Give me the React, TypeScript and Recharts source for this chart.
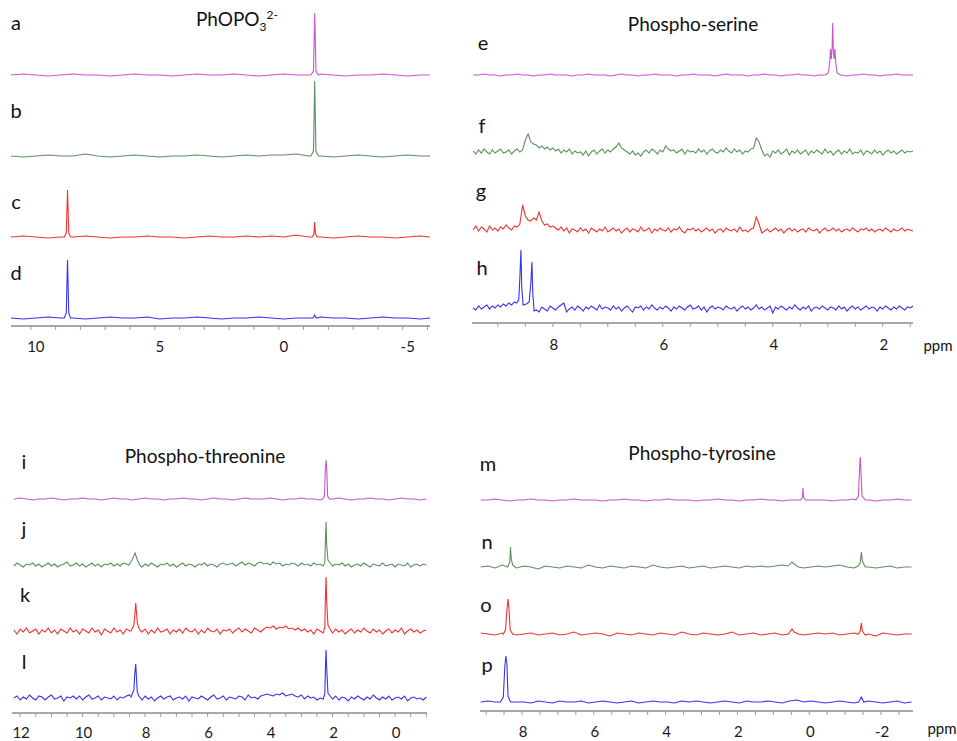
import React from "react";
import { LineChart, Line, XAxis, YAxis } from "recharts";

type Pt = [number, number];

// ---- PhOPO3(2-) panel: a-d ----
const ppm1 = [
  10.8, 10.3, 9.8, 9.3, 8.8, 8.3, 7.8, 7.3, 6.8, 6.3, 5.8, 5.3, 4.8, 4.3, 3.8, 3.3, 2.8, 2.3,
  1.8, 1.3, 0.8, 0.3, -0.2, -0.7, -1.2, -1.7, -2.2, -2.7, -3.2, -3.7, -4.2, -4.7, -5.2, -5.7, -6.1,
];
const aBase = [0, 1, 0, -1, 0, 1, 0, 0, -1, 0, 1, 0, 0, -1, 0, 1, 0, 0, 1, 0, -1, 0, 1, 0, 0, 1, 0, -1, 0, 0, 1, 0, -1, 0, 0];
const bBase = [0, -1, 0, 1, 0, 0, 2, 0, -1, 0, 1, 0, -1, 0, 0, 1, 0, -1, 0, 1, 0, 1, 1, 2, 0, 0, -1, 0, 1, 0, -1, 0, 1, 0, 0];
const cBase = [0, 1, 0, -1, 0, 0, 1, 0, -1, 0, 0, 1, 0, 0, -1, 0, 1, 0, 0, 1, 0, 1, 0, 2, 0, 0, -1, 0, 1, 0, 0, -1, 0, 1, 0];
const dBase = [0, -1, 0, 1, 0, 0, -1, 0, 1, 0, 0, 1, -1, 0, 0, 1, 0, -1, 0, 0, 1, 0, -1, 0, 0, 1, 0, 0, -1, 0, 1, 0, 0, -1, 0];
const aPeaks: Pt[][] = [[[-1.3, 0], [-1.4, 4], [-1.43, 40], [-1.45, 62], [-1.47, 40], [-1.5, 4], [-1.6, 0]]];
const bPeaks: Pt[][] = [[[-1.3, 0], [-1.4, 5], [-1.43, 45], [-1.45, 75], [-1.47, 45], [-1.5, 5], [-1.6, 0]]];
const cPeaks: Pt[][] = [
  [[8.65, 0], [8.57, 4], [8.54, 30], [8.52, 47], [8.5, 30], [8.47, 4], [8.4, 0]],
  [[-1.35, 0], [-1.42, 3], [-1.45, 15], [-1.48, 3], [-1.55, 0]],
];
const dPeaks: Pt[][] = [
  [[8.65, 0], [8.57, 5], [8.54, 38], [8.52, 58], [8.5, 38], [8.47, 5], [8.4, 0]],
  [[-1.38, 0], [-1.45, 3], [-1.52, 0]],
];
const ticks1 = [10, 9, 8, 7, 6, 5, 4, 3, 2, 1, 0, -1, -2, -3, -4, -5, -6];
const labels1 = [10, 5, 0, -5];

// ---- Phospho-serine panel: e-h ----
const ppm2 = [
  9.45, 9.35, 9.25, 9.15, 9.05, 8.95, 8.85, 8.75, 8.65, 8.55, 8.45, 8.35, 8.25, 8.15, 8.05, 7.95, 7.85, 7.75, 7.65, 7.55,
  7.45, 7.35, 7.25, 7.15, 7.05, 6.95, 6.85, 6.75, 6.65, 6.55, 6.45, 6.35, 6.25, 6.15, 6.05, 5.95, 5.85, 5.75, 5.65, 5.55,
  5.45, 5.35, 5.25, 5.15, 5.05, 4.95, 4.85, 4.75, 4.65, 4.55, 4.45, 4.35, 4.25, 4.15, 4.05, 3.95, 3.85, 3.75, 3.65, 3.55,
  3.45, 3.35, 3.25, 3.15, 3.05, 2.95, 2.85, 2.75, 2.65, 2.55, 2.45, 2.35, 2.25, 2.15, 2.05, 1.95, 1.85, 1.75, 1.65, 1.55,
  1.45,
];
const ppm2fine = [
  9.45, 9.4, 9.35, 9.3, 9.25, 9.2, 9.15, 9.1, 9.05, 9.0,
  8.95, 8.9, 8.85, 8.8, 8.75, 8.7, 8.65, 8.6, 8.55, 8.5,
  8.45, 8.4, 8.35, 8.3, 8.25, 8.2, 8.15, 8.1, 8.05, 8.0,
  7.95, 7.9, 7.85, 7.8, 7.75, 7.7, 7.65, 7.6, 7.55, 7.5,
  7.45, 7.4, 7.35, 7.3, 7.25, 7.2, 7.15, 7.1, 7.05, 7.0,
  6.95, 6.9, 6.85, 6.8, 6.75, 6.7, 6.65, 6.6, 6.55, 6.5,
  6.45, 6.4, 6.35, 6.3, 6.25, 6.2, 6.15, 6.1, 6.05, 6.0,
  5.95, 5.9, 5.85, 5.8, 5.75, 5.7, 5.65, 5.6, 5.55, 5.5,
  5.45, 5.4, 5.35, 5.3, 5.25, 5.2, 5.15, 5.1, 5.05, 5.0,
  4.95, 4.9, 4.85, 4.8, 4.75, 4.7, 4.65, 4.6, 4.55, 4.5,
  4.45, 4.4, 4.35, 4.3, 4.25, 4.2, 4.15, 4.1, 4.05, 4.0,
  3.95, 3.9, 3.85, 3.8, 3.75, 3.7, 3.65, 3.6, 3.55, 3.5,
  3.45, 3.4, 3.35, 3.3, 3.25, 3.2, 3.15, 3.1, 3.05, 3.0,
  2.95, 2.9, 2.85, 2.8, 2.75, 2.7, 2.65, 2.6, 2.55, 2.5,
  2.45, 2.4, 2.35, 2.3, 2.25, 2.2, 2.15, 2.1, 2.05, 2.0,
  1.95, 1.9, 1.85, 1.8, 1.75, 1.7, 1.65, 1.6, 1.55, 1.5,
  1.45,
];
const eBase = [
  0, 0, 1, 0, 0, -1, 0, 0, 1, 0, 0, -1, 0, 0, 1, 0, 0, 0, -1, 0, 0, 1, 0, 0, 0, -1, 0, 1, 0, 0,
  -1, 0, 0, 1, 0, 0, 0, -1, 0, 0, 1, 0, 0, 0, -1, 0, 1, 0, 0, 0, -1, 0, 0, 1, 0, 0, -1, 0, 0, 1,
  0, 0, -1, 0, 1, 0, 0, 0, -1, 0, 0, 1, 0, 0, -1, 0, 0, 1, 0, 0, 0,
];
const fBase = [
  1, -2, 2, -1, 3, 0, -2, 2, -1, 1,
  3, -1, 0, 2, -2, 1, 3, 0, 2, 12,
  18, 10, 8, 7, 4, 6, 3, 5, 2, 4,
  1, 3, -1, 2, 0, 3, -2, 1, -1, 0,
  -3, 1, -4, 0, 2, -2, 1, 3, -1, 2,
  0, 3, 5, 9, 4, 2, 0, -2, 1, -3,
  -1, -4, 0, 2, -1, 3, 1, -2, 2, 0,
  6, 3, 1, 2, -1, 1, 3, -2, 2, 0,
  1, -1, 3, 0, 2, -2, 1, 3, 0, -1,
  2, 0, 4, 1, -1, 3, 0, 2, -2, 1,
  0, 3, 4, 14, 10, 2, -4, -2, -5, 1,
  -1, 2, -2, 0, 3, -3, 1, -1, 2, -2,
  0, 2, -3, 1, -1, 2, 0, -2, 3, -1,
  1, -3, 0, 2, -2, 1, -1, 3, -2, 0,
  -1, 2, -3, 1, 0, -2, 2, -1, 1, -3,
  0, 2, -1, 1, -2, 0, 2, -1, 1, 0,
  1,
];
const gBase = [
  0, 4, -1, 3, 1, -2, 4, 0, 2, -1,
  3, 1, 5, 2, 0, 4, 3, 6, 25, 14,
  10, 9, 12, 10, 18, 9, 5, 6, 3, 4,
  2, 0, 3, -1, 2, -3, 1, 0, -2, 2,
  -1, 1, -3, 2, 0, -2, 1, -1, 3, -2,
  0, 2, -1, 1, -3, 0, 2, -2, 1, 0,
  -2, 3, -1, 0, 2, -3, 1, -1, 2, 0,
  -1, 2, -2, 1, 0, 3, -1, -3, 1, 0,
  2, -1, 1, -2, 0, 2, -1, 1, -3, 0,
  1, -2, 2, 0, -1, 1, -2, 3, -1, 0,
  -2, 1, 2, 13, 6, -3, -1, 1, -2, 0,
  2, -1, 1, -3, 0, 2, -1, 1, -2, 0,
  1, -2, 2, 0, -1, 1, -3, 0, 2, -1,
  0, 2, -1, 1, -2, 0, 1, -1, 2, 0,
  -2, 1, 0, 2, -1, 1, -2, 0, 1, -1,
  2, 0, -2, 1, -1, 0, 2, -1, 1, 0,
  -1,
];
const hBase = [
  0, -2, 2, -1, 1, 3, -1, 2, 0, 3,
  1, 4, 2, 5, 3, 6, 0, 0, 0, 0,
  0, 0, 0, -2, -4, 1, -1, -3, 2, 0,
  -2, 1, 3, 5, -4, -1, 1, -2, 2, 0,
  -3, 1, -1, 2, 0, -2, 3, -1, 1, 0,
  -2, 2, -1, 1, -3, 0, 2, -1, -4, 1,
  0, 2, -2, 1, -1, 3, 0, -2, 1, -1,
  2, 0, -3, 1, -1, 2, 0, -2, 1, 3,
  -1, 0, 2, -2, 1, -4, 0, 2, -1, 1,
  0, -2, 2, 0, -1, 1, -3, 0, 2, -1,
  1, -2, 0, 3, -1, 1, -2, 0, 2, -5,
  1, -1, 2, 0, -2, 1, -1, 3, 0, -2,
  1, -1, 2, -3, 0, 1, -1, 2, 0, -2,
  1, 0, -2, 2, -1, 1, -3, 0, 2, -1,
  1, -2, 0, 2, -1, 1, 0, -3, 1, -1,
  2, 0, -2, 1, -1, 2, 0, -2, 1, 0,
  2,
];
const ePeaks: Pt[][] = [
  [[3.05, 0], [2.99, 2], [2.965, 12], [2.95, 26], [2.935, 16], [2.92, 28], [2.91, 52], [2.9, 28], [2.885, 16], [2.87, 26], [2.855, 12], [2.83, 2], [2.77, 0]],
];
const hPeaks: Pt[][] = [
  [[8.66, 5], [8.62, 8], [8.6, 30], [8.58, 58], [8.565, 20], [8.54, 3], [8.48, 4], [8.43, 6], [8.4, 25], [8.38, 46], [8.365, 15], [8.34, -3]],
];
const ticks2 = [9, 8.5, 8, 7.5, 7, 6.5, 6, 5.5, 5, 4.5, 4, 3.5, 3, 2.5, 2, 1.5];
const labels2 = [8, 6, 4, 2];

// ---- Phospho-threonine panel: i-l ----
const ppm3 = [
  12.2, 12, 11.8, 11.6, 11.4, 11.2, 11, 10.8, 10.6, 10.4, 10.2, 10, 9.8, 9.6, 9.4, 9.2, 9, 8.8, 8.6, 8.4,
  8.2, 8, 7.8, 7.6, 7.4, 7.2, 7, 6.8, 6.6, 6.4, 6.2, 6, 5.8, 5.6, 5.4, 5.2, 5, 4.8, 4.6, 4.4,
  4.2, 4, 3.8, 3.6, 3.4, 3.2, 3, 2.8, 2.6, 2.4, 2.2, 2, 1.8, 1.6, 1.4, 1.2, 1, 0.8, 0.6, 0.4,
  0.2, 0, -0.2, -0.4, -0.6, -0.8, -1,
];
const ppm3fine = [
  12.2, 12.1, 12.0, 11.9, 11.8, 11.7, 11.6, 11.5, 11.4, 11.3,
  11.2, 11.1, 11.0, 10.9, 10.8, 10.7, 10.6, 10.5, 10.4, 10.3,
  10.2, 10.1, 10.0, 9.9, 9.8, 9.7, 9.6, 9.5, 9.4, 9.3,
  9.2, 9.1, 9.0, 8.9, 8.8, 8.7, 8.6, 8.5, 8.4, 8.3,
  8.2, 8.1, 8.0, 7.9, 7.8, 7.7, 7.6, 7.5, 7.4, 7.3,
  7.2, 7.1, 7.0, 6.9, 6.8, 6.7, 6.6, 6.5, 6.4, 6.3,
  6.2, 6.1, 6.0, 5.9, 5.8, 5.7, 5.6, 5.5, 5.4, 5.3,
  5.2, 5.1, 5.0, 4.9, 4.8, 4.7, 4.6, 4.5, 4.4, 4.3,
  4.2, 4.1, 4.0, 3.9, 3.8, 3.7, 3.6, 3.5, 3.4, 3.3,
  3.2, 3.1, 3.0, 2.9, 2.8, 2.7, 2.6, 2.5, 2.4, 2.3,
  2.2, 2.1, 2.0, 1.9, 1.8, 1.7, 1.6, 1.5, 1.4, 1.3,
  1.2, 1.1, 1.0, 0.9, 0.8, 0.7, 0.6, 0.5, 0.4, 0.3,
  0.2, 0.1, 0.0, -0.1, -0.2, -0.3, -0.4, -0.5, -0.6, -0.7,
  -0.8, -0.9, -1.0,
];
const iBase = [
  0, 1, 0, -1, 0, 0, 1, 0, -1, 0, 0, 1, 0, 0, -1, 0, 1, 0, 0, -1, 0, 1, 0, 0, -1, 0, 0, 1, 0, 0,
  -1, 0, 1, 0, 0, -1, 0, 1, 0, 0, 0, 1, 0, -1, 0, 0, 1, 0, 0, -1, 0, 0, 1, 0, -1, 0, 0, 1, 0, 0,
  -1, 0, 1, 0, 0, -1, 0,
];
const jBase = [
  -1, 2, 0, -2, 1, 0, 2, -1, 1, -2,
  0, 2, -1, 1, -2, 0, 1, 3, -1, 0,
  2, -1, 1, -2, 0, 2, -1, 1, -2, 1,
  0, 2, -1, 1, -1, 2, 1, 0, 0, 0,
  0, -2, 1, -1, 2, 0, -2, 1, 0, 2,
  -1, 1, -2, 0, 2, -1, 1, 0, -2, 1,
  0, 2, -1, 1, 0, -2, 1, 2, 0, 1,
  2, -1, 1, 3, 0, 2, 1, -1, 2, 3,
  1, 2, 0, 3, 1, 2, -1, 1, 0, 2,
  1, -1, 2, 0, 1, -1, 2, 0, 1, 0,
  0, 0, -1, 1, 0, 2, -1, 1, -2, 0,
  1, -1, 2, 0, -2, 1, 0, -1, 2, -1,
  0, 1, -2, 1, 0, -1, 2, -2, 0, 1,
  -1, 1, 0,
];
const kBase = [
  1, -3, 2, -1, 3, -2, 0, 2, -3, 1,
  -1, 3, -2, 1, -3, 2, 0, -2, 3, -1,
  1, -3, 2, 0, -2, 3, -1, 1, -4, 2,
  0, -2, 3, -1, 1, -3, 2, 0, 0, 0,
  0, -1, 2, -3, 1, -2, 3, -1, 0, 2,
  -3, 1, -1, 2, -2, 3, 0, -1, 2, -3,
  1, -2, 3, 0, -1, 2, -3, 1, 0, 2,
  -2, 1, 3, -1, 2, 0, -2, 3, 1, -1,
  2, 4, 3, 5, 2, 4, 3, 5, 2, 3,
  1, 3, 0, 2, -1, 1, -3, 2, 0, 0,
  0, 0, -2, 2, -1, 1, -3, 0, 2, -2,
  1, -1, 3, 0, -2, 2, -1, 1, -3, 0,
  2, -2, 1, -1, 3, -3, 0, 2, -1, 1,
  -2, 0, 1,
];
const lBase = [
  0, 2, -2, 1, -1, 3, 0, -2, 2, 1,
  -2, 1, 3, -1, 0, 2, -3, 1, 0, 2,
  -1, 2, -2, 1, 3, -1, 0, 2, -2, 1,
  0, -1, 2, -2, 1, 0, 2, 3, 0, 0,
  0, -2, 2, -1, 1, -3, 0, 2, -1, 1,
  2, -2, 0, 1, -1, 2, -3, 1, 0, -1,
  2, 0, -2, 1, 3, -1, 0, 2, -2, 1,
  0, -1, 2, 1, -2, 3, 0, 1, -1, 2,
  3, 4, 3, 2, 4, 3, 5, 2, 3, 4,
  2, 1, 3, -1, 2, 0, 1, -2, 0, 0,
  0, 0, -1, 2, -2, 1, 0, -3, 1, -1,
  2, 0, -2, 1, -1, 3, 0, -2, 1, -1,
  2, -2, 0, 1, -1, 2, -3, 0, 1, -1,
  0, -2, 1,
];
const iPeaks: Pt[][] = [[[2.32, 0], [2.26, 3], [2.235, 28], [2.21, 39], [2.185, 28], [2.16, 3], [2.1, 0]]];
const jPeaks: Pt[][] = [
  [[8.52, 0], [8.42, 5], [8.32, 12], [8.25, 5], [8.15, -1]],
  [[2.3, -1], [2.25, 3], [2.23, 25], [2.21, 43], [2.19, 20], [2.15, 5], [2.08, 2]],
];
const kPeaks: Pt[][] = [
  [[8.45, 0], [8.36, 6], [8.33, 16], [8.3, 28], [8.28, 20], [8.25, 8], [8.2, 3], [8.12, -1]],
  [[2.3, -2], [2.25, 4], [2.23, 35], [2.21, 54], [2.19, 30], [2.15, 6], [2.08, 2]],
];
const lPeaks: Pt[][] = [
  [[8.45, 1], [8.36, 8], [8.33, 25], [8.3, 34], [8.28, 22], [8.25, 6], [8.2, 2], [8.12, -1]],
  [[2.3, -1], [2.25, 4], [2.23, 30], [2.21, 48], [2.19, 30], [2.15, 5], [2.08, 2]],
];
const ticks3 = [12, 11.5, 11, 10.5, 10, 9.5, 9, 8.5, 8, 7.5, 7, 6.5, 6, 5.5, 5, 4.5, 4, 3.5, 3, 2.5, 2, 1.5, 1, 0.5, 0, -0.5, -1];
const labels3 = [12, 10, 8, 6, 4, 2, 0];

// ---- Phospho-tyrosine panel: m-p ----
const ppm4 = [
  9.15, 8.95, 8.75, 8.55, 8.35, 8.15, 7.95, 7.75, 7.55, 7.35, 7.15, 6.95, 6.75, 6.55, 6.35, 6.15, 5.95, 5.75, 5.55, 5.35,
  5.15, 4.95, 4.75, 4.55, 4.35, 4.15, 3.95, 3.75, 3.55, 3.35, 3.15, 2.95, 2.75, 2.55, 2.35, 2.15, 1.95, 1.75, 1.55, 1.35,
  1.15, 0.95, 0.75, 0.55, 0.35, 0.15, -0.05, -0.25, -0.45, -0.65, -0.85, -1.05, -1.25, -1.45, -1.65, -1.85, -2.05, -2.25, -2.45, -2.65,
  -2.85,
];
const mBase = [
  0, 0, 1, 0, -1, 0, 0, 1, 0, 0, -1, 0, 0, 1, 0, 0, 0, -1, 0, 0, 1, 0, 0, -1, 0, 0, 1, 0, 0, 0,
  -1, 0, 0, 1, 0, 0, -1, 0, 0, 1, 0, 0, -1, 0, 0, 1, 0, 0, 0, -1, 0, 0, 1, 0, 0, -1, 0, 0, 1, 0,
  0,
];
const nBase = [
  0, 1, -1, 2, 0, -1, 1, 0, -2, 1, 0, -1, 1, 0, -1, 2, 0, -1, 1, 0, -1, 1, 0, -1, 2, 0, -1, 0, 1, -1,
  0, 1, -1, 0, 1, 0, -1, 1, 0, 1, 0, 1, 2, 0, 0, -1, 0, 1, 0, 1, 2, 0, -1, 1, 0, -1, 0, 1, -1, 0,
  0,
];
const oBase = [
  1, 0, -1, 1, 0, -1, 0, 1, -1, 0, 1, -1, 0, 2, -1, 0, 1, 0, -2, 1, 0, -1, 1, 0, -1, 1, 0, -1, 2, 0,
  -1, 1, 0, -1, 0, 2, -1, 0, 1, -1, 0, 1, -1, 0, 1, -1, 0, 1, 0, 1, -1, 0, 1, -1, 0, -2, 1, 0, -1, 0,
  0,
];
const pBase = [
  0, 1, 0, -1, 1, 0, 0, -1, 1, 0, -1, 1, 0, 0, 1, -1, 0, 1, 0, -1, 0, 1, -1, 0, 1, 0, 0, -1, 1, 0,
  1, 0, -1, 0, 1, 0, -1, 1, 0, 0, 1, 0, -1, 1, 2, 0, 1, 0, -1, 0, 1, 0, -1, 0, 1, 0, -1, 0, 1, -1,
  0,
];
const mPeaks: Pt[][] = [
  [[0.24, 0], [0.19, 3], [0.175, 12], [0.16, 3], [0.1, 0]],
  [[-1.3, 0], [-1.37, 4], [-1.4, 30], [-1.42, 43], [-1.44, 30], [-1.47, 4], [-1.56, 0]],
];
const nPeaks: Pt[][] = [
  [[8.4, 0], [8.34, 5], [8.32, 20], [8.3, 8], [8.26, 2], [8.2, 0]],
  [[0.58, 1], [0.48, 5], [0.42, 3], [0.3, 0]],
  [[-1.36, 1], [-1.42, 4], [-1.45, 15], [-1.48, 6], [-1.56, 0]],
];
const oPeaks: Pt[][] = [
  [[8.52, 0], [8.46, 4], [8.42, 24], [8.39, 35], [8.36, 24], [8.33, 4], [8.26, 0]],
  [[0.58, 0], [0.48, 5], [0.42, 2], [0.3, 0]],
  [[-1.36, 0], [-1.42, 3], [-1.45, 11], [-1.48, 3], [-1.56, -1]],
];
const pPeaks: Pt[][] = [
  [[8.6, 0], [8.52, 5], [8.48, 35], [8.45, 46], [8.42, 38], [8.39, 6], [8.32, 0]],
  [[-1.38, 0], [-1.45, 5], [-1.52, 0]],
];
const ticks4 = [9, 8.5, 8, 7.5, 7, 6.5, 6, 5.5, 5, 4.5, 4, 3.5, 3, 2.5, 2, 1.5, 1, 0.5, 0, -0.5, -1, -1.5, -2, -2.5];
const labels4 = [8, 6, 4, 2, 0, -2];

const MAGENTA = "#c955c9";
const GREEN = "#5c915c";
const RED = "#f03232";
const BLUE = "#3434ee";
const FONT = "Lato, 'Open Sans', sans-serif";

interface Trace {
  key: string;
  base: number; // baseline, px from top of plot
  color: string;
  grid: number[];
  values: number[];
  peaks: Pt[][];
}

function buildRows(traces: Trace[]) {
  const rows: Record<string, number>[] = [];
  traces.forEach((t) => {
    const ranges = t.peaks.map((g) => [Math.min(...g.map((p) => p[0])), Math.max(...g.map((p) => p[0]))]);
    t.grid.forEach((ppm, i) => {
      if (ranges.some(([lo, hi]) => ppm >= lo && ppm <= hi)) return;
      rows.push({ ppm, [t.key]: t.values[i] });
    });
    t.peaks.forEach((g) => g.forEach(([ppm, v]) => rows.push({ ppm, [t.key]: v })));
  });
  return rows.sort((p, q) => q.ppm - p.ppm);
}

interface PanelProps {
  left: number;
  top: number;
  width: number;
  plotH: number;
  domain: [number, number];
  ticks: number[];
  labels: number[];
  tickDx: number;
  labelDy: number;
  traces: Trace[];
}

function Panel({ left, top, width, plotH, domain, ticks, labels, tickDx, labelDy, traces }: PanelProps) {
  const rows = buildRows(traces);
  const renderTick = (props: any) => {
    const { x, y, payload } = props;
    if (!labels.includes(payload.value)) return <g />;
    return (
      <text x={x + tickDx} y={y + labelDy} textAnchor="middle" fill="#1a1a1a" fontSize={15} fontFamily={FONT}>
        {String(payload.value)}
      </text>
    );
  };
  return (
    <div style={{ position: "absolute", left, top }}>
      <LineChart width={width} height={plotH + 40} data={rows} margin={{ top: 0, right: 0, bottom: 0, left: 0 }}>
        <XAxis
          type="number"
          dataKey="ppm"
          domain={domain}
          reversed
          allowDataOverflow
          ticks={ticks}
          interval={0}
          height={40}
          tickSize={4}
          tickMargin={2}
          axisLine={{ stroke: "#a8a8a8", strokeWidth: 2 }}
          tickLine={{ stroke: "#9a9a9a" }}
          tick={renderTick}
        />
        {traces.map((t) => (
          <YAxis key={t.key} yAxisId={t.key} hide domain={[-(plotH - t.base), t.base]} allowDataOverflow />
        ))}
        {traces.map((t) => (
          <Line
            key={t.key}
            yAxisId={t.key}
            dataKey={t.key}
            type="linear"
            stroke={t.color}
            strokeWidth={1.1}
            dot={false}
            connectNulls
            isAnimationActive={false}
          />
        ))}
      </LineChart>
    </div>
  );
}

const Lbl = ({ x, y, size, children }: { x: number; y: number; size: number; children: React.ReactNode }) => (
  <div
    style={{
      position: "absolute",
      left: x,
      top: y,
      transform: "translate(-50%, -50%)",
      fontFamily: FONT,
      fontSize: size,
      lineHeight: 1,
      color: "#111",
      whiteSpace: "nowrap",
    }}
  >
    {children}
  </div>
);

export default function App() {
  return (
    <div
      style={{
        position: "absolute",
        left: 0,
        top: 0,
        width: 957,
        height: 741,
        overflow: "hidden",
        background: "#fff",
      }}
    >
      <Panel
        left={11}
        top={0}
        width={419}
        plotH={326}
        domain={[-6.1, 10.8]}
        ticks={ticks1}
        labels={labels1}
        tickDx={5}
        labelDy={20}
        traces={[
          { key: "a", base: 75, color: MAGENTA, grid: ppm1, values: aBase, peaks: aPeaks },
          { key: "b", base: 156, color: GREEN, grid: ppm1, values: bBase, peaks: bPeaks },
          { key: "c", base: 237, color: RED, grid: ppm1, values: cBase, peaks: cPeaks },
          { key: "d", base: 318, color: BLUE, grid: ppm1, values: dBase, peaks: dPeaks },
        ]}
      />
      <Panel
        left={472}
        top={0}
        width={441}
        plotH={323}
        domain={[1.45, 9.47]}
        ticks={ticks2}
        labels={labels2}
        tickDx={1}
        labelDy={21}
        traces={[
          { key: "e", base: 75, color: MAGENTA, grid: ppm2, values: eBase, peaks: ePeaks },
          { key: "f", base: 152, color: GREEN, grid: ppm2fine, values: fBase, peaks: [] },
          { key: "g", base: 230, color: RED, grid: ppm2fine, values: gBase, peaks: [] },
          { key: "h", base: 308, color: BLUE, grid: ppm2fine, values: hBase, peaks: hPeaks },
        ]}
      />
      <Panel
        left={12}
        top={420}
        width={415}
        plotH={293}
        domain={[-1.02, 12.26]}
        ticks={ticks3}
        labels={labels3}
        tickDx={1}
        labelDy={19}
        traces={[
          { key: "i", base: 79, color: MAGENTA, grid: ppm3, values: iBase, peaks: iPeaks },
          { key: "j", base: 145, color: GREEN, grid: ppm3fine, values: jBase, peaks: jPeaks },
          { key: "k", base: 211, color: RED, grid: ppm3fine, values: kBase, peaks: kPeaks },
          { key: "l", base: 278, color: BLUE, grid: ppm3fine, values: lBase, peaks: lPeaks },
        ]}
      />
      <Panel
        left={480}
        top={420}
        width={433}
        plotH={291}
        domain={[-2.89, 9.17]}
        ticks={ticks4}
        labels={labels4}
        tickDx={1}
        labelDy={20}
        traces={[
          { key: "m", base: 80, color: MAGENTA, grid: ppm4, values: mBase, peaks: mPeaks },
          { key: "n", base: 147, color: GREEN, grid: ppm4, values: nBase, peaks: nPeaks },
          { key: "o", base: 214, color: RED, grid: ppm4, values: oBase, peaks: oPeaks },
          { key: "p", base: 282, color: BLUE, grid: ppm4, values: pBase, peaks: pPeaks },
        ]}
      />

      {/* titles */}
      <div style={{ position: "absolute", left: 196, top: 9, fontFamily: FONT, fontSize: 19, lineHeight: 1, color: "#111" }}>
        PhOPO<sub style={{ fontSize: 12 }}>3</sub>
        <sup style={{ fontSize: 12 }}>2-</sup>
      </div>
      <Lbl x={693} y={23} size={19}>Phospho-serine</Lbl>
      <Lbl x={205} y={455} size={19}>Phospho-threonine</Lbl>
      <Lbl x={702} y={452} size={19}>Phospho-tyrosine</Lbl>

      {/* trace letters */}
      <Lbl x={16} y={22} size={20}>a</Lbl>
      <Lbl x={16} y={110} size={20}>b</Lbl>
      <Lbl x={16} y={201} size={20}>c</Lbl>
      <Lbl x={16} y={272} size={20}>d</Lbl>
      <Lbl x={483} y={42} size={20}>e</Lbl>
      <Lbl x={482} y={125} size={20}>f</Lbl>
      <Lbl x={481} y={190} size={20}>g</Lbl>
      <Lbl x={482} y={267} size={20}>h</Lbl>
      <Lbl x={24} y={461} size={20}>i</Lbl>
      <Lbl x={24} y={528} size={20}>j</Lbl>
      <Lbl x={25} y={594} size={20}>k</Lbl>
      <Lbl x={24} y={661} size={20}>l</Lbl>
      <Lbl x={488} y={463} size={20}>m</Lbl>
      <Lbl x={487} y={541} size={20}>n</Lbl>
      <Lbl x={486} y={604} size={20}>o</Lbl>
      <Lbl x={487} y={664} size={20}>p</Lbl>

      {/* axis unit */}
      <Lbl x={938} y={345} size={15}>ppm</Lbl>
      <Lbl x={942} y={728} size={15}>ppm</Lbl>
    </div>
  );
}
